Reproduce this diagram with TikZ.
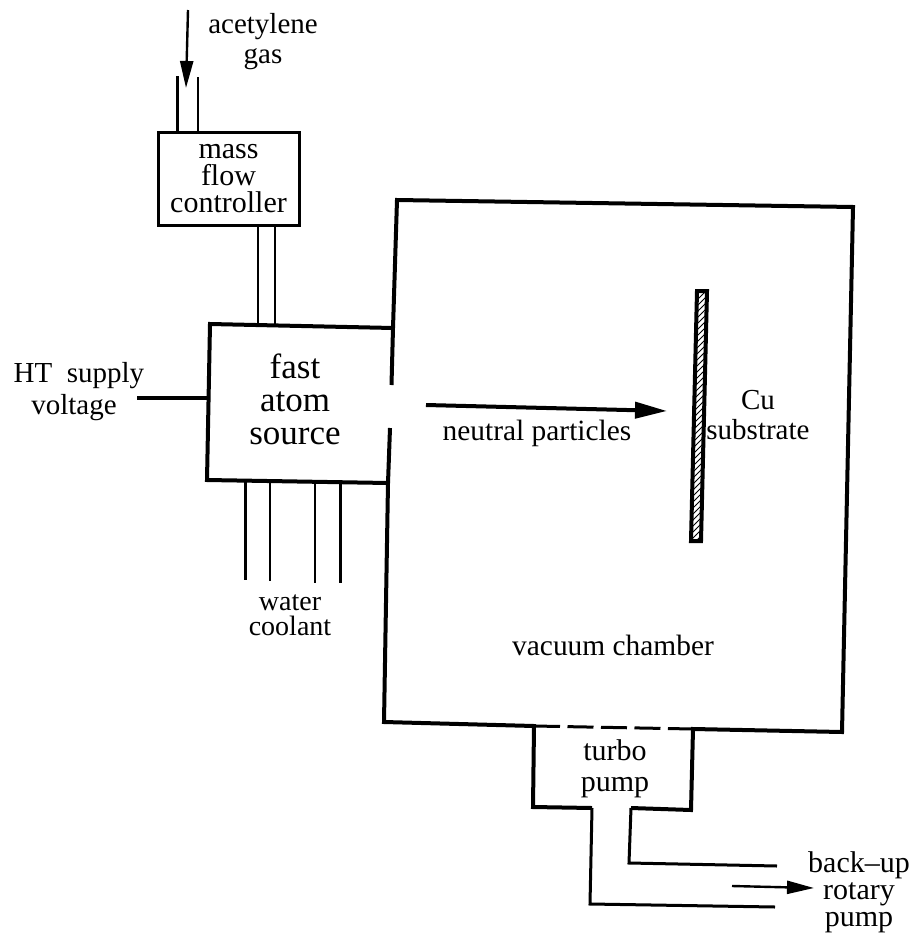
\documentclass[tikz,border=0pt]{standalone}
\usepackage{fontspec}
\setmainfont{Liberation Serif}
\usepackage{tikz}
\usetikzlibrary{arrows.meta, patterns, positioning}

\begin{document}
\begin{tikzpicture}[
    x=0.5pt, y=-0.5pt,
    lbl/.style={align=center, inner sep=0pt, font=\fontsize{14.5}{15}\selectfont},
    box/.style={draw, line width=1.5pt, rectangle, minimum width=70.5pt, minimum height=46.5pt, inner sep=0pt, align=center, font=\fontsize{15}{13.5}\selectfont},
    wall/.style={line width=2pt, line join=miter},
    pipe/.style={line width=1.3pt},
    arrow/.style={-{Triangle[length=13.5pt, width=6.5pt]}, line width=1.2pt}
]
\useasboundingbox (0,0) rectangle (916,937);

% boxes and text
\node[box] (mfc) at (228.5,178.5) {mass\\flow\\controller};
\node[lbl, font=\fontsize{17.5}{16.5}\selectfont] (source) at (295,399) {fast\\atom\\source};
\node[lbl, font=\fontsize{14.5}{15}\selectfont] (gas) at (263,42) {acetylene\\gas};
\node[lbl, font=\fontsize{14.5}{16}\selectfont] (supply) at (74,392) {\hspace*{5pt}HT\ \ supply\\voltage};
\node[lbl, font=\fontsize{14}{12.5}\selectfont] (coolant) at (290,615) {water\\coolant};
\node[lbl, font=\fontsize{14.7}{15}\selectfont] (neutral) at (537,433) {neutral particles};
\node[lbl] (substrate) at (758,415) {Cu\\substrate};
\node[lbl, font=\fontsize{14.7}{15}\selectfont] (chamber) at (613,645) {vacuum chamber};
\node[lbl, font=\fontsize{15}{15.5}\selectfont] (turbo) at (615,769) {turbo\\pump};
\node[lbl, font=\fontsize{15}{13.5}\selectfont] (rotary) at (859,892) {back--up\\rotary\\pump};

% corners of the walls
\coordinate (gapA) at (391.5,385);
\coordinate (gapB) at (390,428);
\coordinate (srcNE) at (393,328);
\coordinate (srcNW) at (210,324);
\coordinate (srcSW) at (207,480);
\coordinate (srcSE) at (388,483);
\coordinate (chamNW) at (397,200);
\coordinate (chamNE) at (853,207);
\coordinate (chamSE) at (842,732);
\coordinate (chamSW) at (384,722);
\coordinate (pumpNW) at (534,726);
\coordinate (pumpNE) at (693,729);
\coordinate (pumpSW) at (533,807);
\coordinate (pumpSE) at (691,810);
\coordinate (neckL) at (592,808);
\coordinate (neckR) at (631,808);
\coordinate (lineL) at (590,904);
\coordinate (lineR) at (629,863);
\coordinate (endL) at (775,907);
\coordinate (endR) at (777,866);

\draw[wall] (gapA) -- (srcNE) -- (chamNW) -- (chamNE) -- (chamSE) -- (pumpNE) -- (pumpSE) -- (neckR);
\draw[wall] (gapB) -- (srcSE) -- (chamSW) -- (pumpNW) -- (pumpSW) -- (neckL);
\draw[wall] (srcNE) -- (srcNW) -- (srcSW) -- (srcSE);
\draw[line width=1.5pt, dash pattern=on 13pt off 3.75pt] (pumpNW) -- (pumpNE);
\draw[pipe, line width=1.5pt] (neckR) -- (lineR) -- (endR);
\draw[pipe, line width=1.5pt] (neckL) -- (lineL) -- (endL);

% pipes
\coordinate (gasL) at (177.5,76);
\coordinate (gasR) at (198,77);
\coordinate (feedL) at (258,325);
\coordinate (feedR) at (275,325);
\draw[pipe] (gasL) -- (gasL |- mfc.north);
\draw[pipe] (gasR) -- (gasR |- mfc.north);
\draw[pipe] (feedL |- mfc.south) -- (feedL);
\draw[pipe] (feedR |- mfc.south) -- (feedR);

\coordinate (coolA) at (245.5,482);
\coordinate (coolB) at (270,482);
\coordinate (coolC) at (315,482.5);
\coordinate (coolD) at (340.5,483);
\draw[pipe] (coolA) -- (245.5,580);
\draw[pipe] (coolB) -- (270,581);
\draw[pipe] (coolC) -- (315,583);
\draw[pipe] (coolD) -- (340.5,583);

\coordinate (htEnd) at (137,398);
\coordinate (htSrc) at (208.5,398);
\draw[wall] (htEnd) -- (htSrc);

% arrows
\coordinate (gasTop) at (188,10);
\coordinate (gasTip) at (186,88);
\draw[arrow] (gasTop) -- (gasTip);
\coordinate (beamStart) at (426,405);
\coordinate (beamTip) at (667,411);
\draw[arrow, line width=2pt, -{Triangle[length=16pt, width=8pt]}] (beamStart) -- (beamTip);
\coordinate (pumpStart) at (732,886);
\coordinate (pumpTip) at (814,888);
\draw[arrow] (pumpStart) -- (pumpTip);

% substrate
\draw[line width=2pt, pattern=north east lines] (697,291) -- (707,291) -- (701,541) -- (691,541) -- cycle;
\end{tikzpicture}
\end{document}
